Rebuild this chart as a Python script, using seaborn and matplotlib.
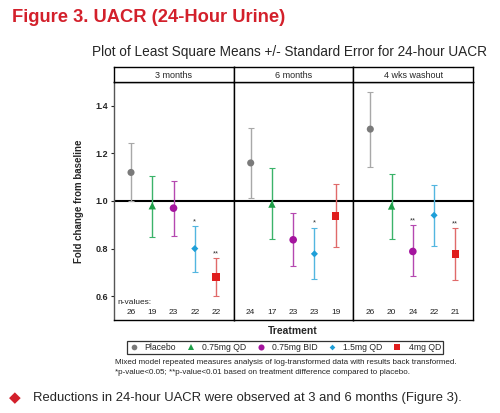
import numpy as np
import pandas as pd
import matplotlib
matplotlib.use("Agg")
import matplotlib.pyplot as plt
import seaborn as sns

# data
periods = ["3 months", "6 months", "4 wks washout"]
treatments = ["Placebo", "0.75mg QD", "0.75mg BID", "1.5mg QD", "4mg QD"]
means_3m = [1.12, 0.98, 0.97, 0.80, 0.68]
lower_3m = [1.00, 0.85, 0.855, 0.70, 0.60]
upper_3m = [1.245, 1.105, 1.085, 0.895, 0.76]
means_6m = [1.16, 0.987, 0.837, 0.778, 0.938]
lower_6m = [1.014, 0.842, 0.726, 0.673, 0.806]
upper_6m = [1.305, 1.139, 0.948, 0.888, 1.072]
means_wo = [1.302, 0.979, 0.788, 0.94, 0.778]
lower_wo = [1.142, 0.842, 0.686, 0.812, 0.67]
upper_wo = [1.46, 1.115, 0.899, 1.066, 0.885]
n_3m = [26, 19, 23, 22, 22]
n_6m = [24, 17, 23, 23, 19]
n_wo = [26, 20, 24, 22, 21]
stars_3m = ["", "", "", "*", "**"]
stars_6m = ["", "", "", "*", ""]
stars_wo = ["", "", "**", "", "**"]

rows = []
for per, m, lo, hi, n, st in zip(periods,
                                 [means_3m, means_6m, means_wo],
                                 [lower_3m, lower_6m, lower_wo],
                                 [upper_3m, upper_6m, upper_wo],
                                 [n_3m, n_6m, n_wo],
                                 [stars_3m, stars_6m, stars_wo]):
    for i, t in enumerate(treatments):
        rows.append(dict(period=per, treatment=t, pos=i, mean=m[i],
                         lo=lo[i], hi=hi[i], n=n[i], star=st[i]))
df = pd.DataFrame(rows)

marker_col = {"Placebo": "#7a7a7a", "0.75mg QD": "#1e9e48", "0.75mg BID": "#a4149e",
              "1.5mg QD": "#1e9fd8", "4mg QD": "#e01e1e"}
bar_col = {"Placebo": "#a8a8a8", "0.75mg QD": "#3bb36a", "0.75mg BID": "#b548b0",
           "1.5mg QD": "#52b6e0", "4mg QD": "#e06a6a"}
markers = {"Placebo": "o", "0.75mg QD": "^", "0.75mg BID": "o",
           "1.5mg QD": "D", "4mg QD": "s"}
sizes = {"Placebo": 26, "0.75mg QD": 28, "0.75mg BID": 30, "1.5mg QD": 13, "4mg QD": 30}

sns.set_style("white")
plt.rcParams["font.family"] = ["Liberation Sans", "DejaVu Sans"]

W, H = 500, 413
fig = plt.figure(figsize=(5, 4.13), dpi=100)

def box(x0, y0, x1, y1):
    # pixel box (top-left origin) -> figure fraction rect
    return [x0 / W, 1 - y1 / H, (x1 - x0) / W, (y1 - y0) / H]

edges = [114, 233.7, 353.3, 473]
axes = []
for k, per in enumerate(periods):
    ax = fig.add_axes(box(edges[k], 82, edges[k + 1], 320))
    sax = fig.add_axes(box(edges[k], 67, edges[k + 1], 82))
    sax.set_xticks([]); sax.set_yticks([])
    for s in sax.spines.values():
        s.set_color("black"); s.set_linewidth(1)
    sax.text(0.5, 0.45, per, ha="center", va="center", fontsize=6.5)

    sub = df[df.period == per]
    for _, r in sub.iterrows():
        ax.errorbar(r["pos"], r["mean"], yerr=[[r["mean"] - r["lo"]], [r["hi"] - r["mean"]]],
                    fmt="none", ecolor=bar_col[r["treatment"]], elinewidth=1,
                    capsize=2.5, capthick=0.8, zorder=2)
        if r["star"]:
            ax.text(r["pos"], r["hi"] + 0.004, r["star"], ha="center", va="bottom",
                    fontsize=5.5, color="#333333")
        ax.text(r["pos"], 0.016, str(r["n"]), transform=ax.get_xaxis_transform(),
                ha="center", va="bottom", fontsize=6, color="#222222")
    sns.scatterplot(data=sub, x="pos", y="mean", hue="treatment", style="treatment",
                    size="treatment", sizes=sizes, markers=markers, palette=marker_col,
                    hue_order=treatments, style_order=treatments, size_order=treatments,
                    edgecolor="none", legend=False, ax=ax, zorder=3)
    ax.axhline(1.0, color="black", lw=1.5, zorder=1)
    ax.set_xlim(-0.8, 4.83)
    ax.set_ylim(0.5, 1.5)
    ax.set_xticks([])
    ax.set_xlabel("")
    ax.set_ylabel("")
    for s in ax.spines.values():
        s.set_color("black"); s.set_linewidth(1)
    if k == 0:
        ax.set_yticks([0.6, 0.8, 1.0, 1.2, 1.4])
        ax.set_yticklabels(["0.6", "0.8", "1.0", "1.2", "1.4"], fontweight="bold", fontsize=6.5)
        ax.tick_params(axis="y", direction="out", length=2.5, width=0.8, pad=2, left=True)
        ax.spines["left"].set_color("#555555")
        ax.set_ylabel("Fold change from baseline", fontweight="bold", fontsize=7, labelpad=8)
        ax.text(0.03, 0.06, "n-values:", transform=ax.transAxes, fontsize=6, color="#222222",
                ha="left", va="bottom")
    else:
        ax.set_yticks([])
    axes.append(ax)

fig.text(12 / W, 1 - 18 / H, "Figure 3. UACR (24-Hour Urine)", color="#d3202b",
         fontsize=13.2, fontweight="bold", ha="left", va="center")
fig.text(289 / W, 1 - 52 / H, "Plot of Least Square Means +/- Standard Error for 24-hour UACR",
         fontsize=9.8, ha="center", va="center")
fig.text(293 / W, 1 - 331 / H, "Treatment", fontsize=7.5, fontweight="bold",
         ha="center", va="center")

handles = [plt.Line2D([], [], ls="none", marker=markers[t], color=marker_col[t],
                      markersize=np.sqrt(sizes[t]) * 0.8, markeredgewidth=0) for t in treatments]
labels = ["Placebo", "0.75mg QD", "0.75mg BID", "1.5mg QD", "4mg QD"]
leg = fig.legend(handles, labels, loc="center", bbox_to_anchor=(285 / W, 1 - 347.5 / H),
                 ncol=5, fontsize=6.2, frameon=True, fancybox=False, edgecolor="black",
                 borderpad=0.2, handletextpad=0.8, columnspacing=1.2, handlelength=1.0)
leg.get_frame().set_linewidth(0.9)

fig.text(115 / W, 1 - 362.5 / H,
         "Mixed model repeated measures analysis of log-transformed data with results back transformed.",
         fontsize=5.8, ha="left", va="center", color="#222222")
fig.text(115 / W, 1 - 372.5 / H,
         "*p-value<0.05; **p-value<0.01 based on treatment difference compared to placebo.",
         fontsize=5.8, ha="left", va="center", color="#222222")

fig.text(15 / W, 1 - 398 / H, "\u25c6", color="#d3202b", fontsize=11, ha="center", va="center",
         family=["DejaVu Sans"])
fig.text(33 / W, 1 - 398 / H, "Reductions in 24-hour UACR were observed at 3 and 6 months (Figure 3).",
         fontsize=9.4, ha="left", va="center")

fig.savefig("out.png", dpi=100)
